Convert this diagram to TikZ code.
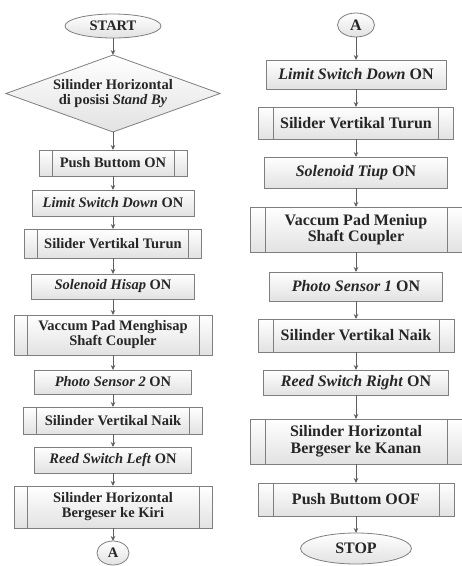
\documentclass[tikz,border=0pt]{standalone}
\usepackage{fontspec}
\setmainfont{Liberation Serif}
\usetikzlibrary{arrows.meta, positioning, shapes.geometric}

\definecolor{linegray}{HTML}{7F7F7F}
\definecolor{fillgray}{HTML}{E2E2E2}
\definecolor{txtgray}{HTML}{262626}
\definecolor{arrgray}{HTML}{5F5F5F}

\begin{document}
\begin{tikzpicture}[
  x=1pt, y=1pt,
  node distance=14pt,
  base/.style={draw=linegray, line width=0.8pt, top color=white, bottom color=fillgray, text=txtgray, inner sep=0pt, outer sep=0pt, align=center},
  lft/.style={font=\fontsize{14.5}{15}\selectfont\bfseries},
  rgt/.style={font=\fontsize{16}{16.7}\selectfont\bfseries},
  sz/.style 2 args={minimum width=#1pt, minimum height=#2pt},
  term/.style={base, ellipse},
  decide/.style={base, diamond, aspect=2.78},
  box/.style={base, rectangle},
  proc/.style={box, path picture={\draw[linegray, line width=0.8pt]
      ([xshift=#1]path picture bounding box.north west) -- ([xshift=#1]path picture bounding box.south west)
      ([xshift=-#1]path picture bounding box.north east) -- ([xshift=-#1]path picture bounding box.south east);}},
  proc/.default=13pt,
  conn/.style={base, ellipse},
  arr/.style={-{Stealth[length=5pt, width=4.5pt]}, draw=arrgray, line width=0.8pt}
]
\useasboundingbox (0,0) rectangle (462,-566);

% left column
\node[term, lft, sz={96}{24}] (start) at (113,-26) {START};
\node[decide, lft, sz={214}{77}, below=17pt of start] (standby) {Silinder Horizontal\\di posisi \textit{Stand By}};
\node[proc, lft, sz={148}{26}, below=18pt of standby] (pushon) {Push Buttom ON};
\node[box, lft, sz={162}{26}, below=of pushon] (lsdown) {\textit{Limit Switch Down} ON};
\node[proc, lft, sz={177}{29}, below=13pt of lsdown] (turun) {Silider Vertikal Turun};
\node[box, lft, sz={163}{25}, below=16pt of turun] (hisap) {\textit{Solenoid Hisap} ON};
\node[proc, lft, sz={198}{40}, below=16pt of hisap] (menghisap) {Vaccum Pad Menghisap\\Shaft Coupler};
\node[box, lft, sz={157}{24}, below=15pt of menghisap] (ps2) {\textit{Photo Sensor 2} ON};
\node[proc, lft, sz={179}{27}, below=13pt of ps2] (naik) {Silinder Vertikal Naik};
\node[box, lft, sz={157}{26}, below=13pt of naik] (rsleft) {\textit{Reed Switch Left} ON};
\node[proc, lft, sz={198}{42}, below=13pt of rsleft] (kiri) {Silinder Horizontal\\Bergeser ke Kiri};
\node[conn, lft, sz={32}{24}, below=13pt of kiri] (aout) {A};

% right column
\node[conn, rgt, sz={37}{24}] (ain) at (356,-25) {A};
\node[box, rgt, sz={180}{29}, below=23pt of ain] (lsdown2) {\textit{Limit Switch Down} ON};
\node[proc=15pt, rgt, sz={195}{32}, below=18pt of lsdown2] (turun2) {Silider Vertikal Turun};
\node[box, rgt, sz={183}{31}, below=18pt of turun2] (tiup) {\textit{Solenoid Tiup} ON};
\node[proc=15pt, rgt, sz={212}{45}, below=19pt of tiup] (meniup) {Vaccum Pad Meniup\\Shaft Coupler};
\node[box, rgt, sz={173}{29}, below=20pt of meniup] (ps1) {\textit{Photo Sensor 1} ON};
\node[proc=15pt, rgt, sz={196}{33}, below=18pt of ps1] (naik2) {Silinder Vertikal Naik};
\node[box, rgt, sz={185}{25}, below=18pt of naik2] (rsright) {\textit{Reed Switch Right} ON};
\node[proc=15pt, rgt, sz={212}{45}, below=24pt of rsright] (kanan) {Silinder Horizontal\\Bergeser ke Kanan};
\node[proc=15pt, rgt, sz={196}{33}, below=19pt of kanan] (pushoof) {Push Buttom OOF};
\node[term, rgt, sz={111}{31}, below=17pt of pushoof] (stop) {STOP};

\foreach \u/\v in {start/standby, standby/pushon, pushon/lsdown, lsdown/turun, turun/hisap,
    hisap/menghisap, menghisap/ps2, ps2/naik, naik/rsleft, rsleft/kiri, kiri/aout,
    ain/lsdown2, lsdown2/turun2, turun2/tiup, tiup/meniup, meniup/ps1, ps1/naik2,
    naik2/rsright, rsright/kanan, kanan/pushoof, pushoof/stop}
  \draw[arr] (\u) -- (\v);
\end{tikzpicture}
\end{document}
